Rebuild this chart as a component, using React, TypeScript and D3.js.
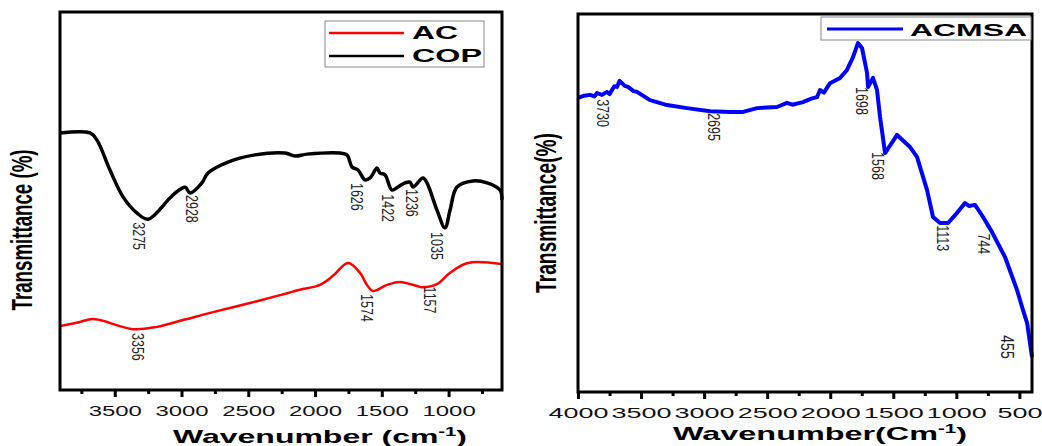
import * as d3 from 'd3';
import React, { useEffect, useRef } from 'react';

// COP (black) — wavenumber / transmittance
const copWavenumber = [3910, 3685, 3633, 3536, 3438, 3333, 3251, 3146, 3101, 2996, 2970, 2936, 2847, 2802, 2652, 2450, 2225, 2150, 2060, 1813, 1761, 1723, 1678, 1626, 1588, 1536, 1514, 1476, 1424, 1379, 1326, 1289, 1266, 1192, 1162, 1087, 1027, 989, 937, 817, 712, 615, 600];
const copTransmittance = [68.0, 68.0, 66.1, 58.2, 51.1, 46.8, 45.2, 48.4, 50.3, 53.4, 53.6, 52.1, 54.8, 57.4, 60.3, 62.2, 62.7, 61.9, 62.4, 62.7, 62.2, 59.0, 58.2, 55.6, 56.1, 58.7, 57.4, 56.9, 52.9, 53.7, 54.8, 55.0, 53.7, 56.1, 54.8, 47.6, 42.9, 47.6, 53.7, 55.3, 54.8, 52.9, 50.3];

// AC (red)
const acWavenumber = [3910, 3760, 3670, 3610, 3363, 3184, 2989, 2764, 2510, 2262, 2113, 1963, 1866, 1753, 1663, 1611, 1566, 1461, 1364, 1236, 1199, 1087, 989, 855, 600];
const acTransmittance = [16.9, 18.0, 18.8, 18.5, 16.1, 16.7, 18.5, 20.6, 22.8, 25.1, 26.5, 27.8, 30.2, 33.6, 31.0, 27.8, 26.2, 27.8, 28.6, 27.5, 27.2, 28.0, 31.0, 33.6, 33.3];

// ACMSA (blue) — right panel
const acmsaWavenumber = [4000, 3950, 3905, 3870, 3849, 3810, 3770, 3750, 3730, 3710, 3691, 3670, 3651, 3630, 3603, 3560, 3532, 3429, 3294, 3136, 2953, 2795, 2691, 2580, 2422, 2343, 2300, 2216, 2150, 2105, 2081, 2050, 2002, 1960, 1922, 1867, 1819, 1780, 1748, 1708, 1700, 1661, 1629, 1605, 1565, 1470, 1367, 1312, 1232, 1185, 1129, 1066, 994, 931, 900, 852, 788, 717, 614, 519, 470, 439, 400];
const acmsaTransmittance = [77.8, 78.4, 78.6, 78.2, 79.1, 78.6, 79.4, 78.8, 79.9, 80.9, 80.7, 82.3, 81.7, 81.0, 80.7, 79.6, 79.4, 77.2, 75.9, 75.1, 74.3, 74.1, 74.1, 75.1, 75.4, 76.5, 76.0, 76.7, 77.6, 78.0, 79.9, 79.2, 81.7, 82.4, 83.1, 85.2, 88.6, 92.3, 91.0, 84.4, 80.7, 83.1, 79.9, 72.8, 63.2, 68.0, 64.8, 62.2, 53.4, 46.3, 44.7, 44.7, 47.4, 50.0, 49.2, 49.5, 46.3, 42.3, 35.7, 27.0, 21.5, 18.3, 9.3];

// tick values
const leftMajorTicks = [3500, 3000, 2500, 2000, 1500, 1000];
const leftMinorTicks = [3750, 3250, 2750, 2250, 1750, 1250, 750];
const rightMajorTicks = [4000, 3500, 3000, 2500, 2000, 1500, 1000, 500];
const rightMinorTicks = [3750, 3250, 2750, 2250, 1750, 1250, 750];

// peak annotations: [label, wavenumber, transmittance]
const copPeaks: [string, number, number][] = [
  ['3275', 3318, 40.7], ['2928', 2921, 47.9], ['1626', 1686, 51.1],
  ['1422', 1454, 48.1], ['1236', 1274, 49.5], ['1035', 1087, 38.1],
];
const acPeaks: [string, number, number][] = [
  ['3356', 3326, 11.4], ['1574', 1611, 21.7], ['1157', 1139, 23.8],
];
const acmsaPeaks: [string, number, number][] = [
  ['3730', 3802, 73.8], ['2695', 2922, 70.1], ['1698', 1748, 77.0],
  ['1568', 1621, 59.8], ['1113', 1106, 40.7], ['744', 780, 39.2], ['455', 598, 11.9],
];

const FONT = '"Liberation Sans", Arial, sans-serif';

type Series = { wn: number[]; t: number[]; color: string; width: number; curve: d3.CurveFactory };

function Panel({ left, top, right, bottom, domain, major, minor, series, peaks, digitWidth, children }: any) {
  const majorRef = useRef<SVGGElement>(null);
  const minorRef = useRef<SVGGElement>(null);

  const x = d3.scaleLinear().domain(domain).range([left, right]);
  const y = d3.scaleLinear().domain([0, 100]).range([bottom, top]);

  useEffect(() => {
    const gMaj = d3.select(majorRef.current);
    gMaj.call(d3.axisBottom(x).tickValues(major).tickSize(7).tickSizeOuter(0).tickPadding(8).tickFormat(d3.format('d')));
    gMaj.select('.domain').remove();
    gMaj.selectAll('line').attr('stroke', '#000').attr('stroke-width', 3);
    gMaj.selectAll<SVGTextElement, number>('text')
      .attr('font-family', FONT)
      .attr('font-size', 15)
      .attr('fill', '#111')
      .attr('textLength', d => String(d).length * digitWidth)
      .attr('lengthAdjust', 'spacingAndGlyphs');

    const gMin = d3.select(minorRef.current);
    gMin.call(d3.axisBottom(x).tickValues(minor).tickSize(4).tickSizeOuter(0).tickFormat(() => ''));
    gMin.select('.domain').remove();
    gMin.selectAll('line').attr('stroke', '#000').attr('stroke-width', 3);
  }, []);

  return (
    <g>
      <g ref={minorRef} transform={`translate(0,${bottom})`} />
      <g ref={majorRef} transform={`translate(0,${bottom})`} />
      {series.map((s: Series, i: number) => {
        const pts = s.wn.map((w, j) => [w, s.t[j]] as [number, number]);
        const path = d3.line<[number, number]>().x(d => x(d[0])).y(d => y(d[1])).curve(s.curve)(pts);
        return <path key={i} d={path || ''} fill="none" stroke={s.color} strokeWidth={s.width} strokeLinejoin="round" />;
      })}
      {peaks.map(([label, w, t]: [string, number, number]) => (
        <text
          key={label}
          transform={`translate(${x(w)},${y(t)}) scale(1.35,1) rotate(90)`}
          textAnchor="middle"
          dominantBaseline="central"
          fontFamily={FONT}
          fontSize={label === '455' ? 14 : 12.5}
          fill="#222"
        >
          {label}
        </text>
      ))}
      <rect x={left} y={top} width={right - left} height={bottom - top} fill="none" stroke="#000" strokeWidth={3} />
      {children}
    </g>
  );
}

export default function App() {
  return (
    <svg width={1042} height={446} style={{ position: 'absolute', left: 0, top: 0, background: '#fff' }}>
      <Panel
        left={60} top={12} right={502} bottom={390}
        domain={[3910, 600]}
        major={leftMajorTicks} minor={leftMinorTicks} digitWidth={13.3}
        series={[
          { wn: copWavenumber, t: copTransmittance, color: '#000', width: 3.5, curve: d3.curveCatmullRom },
          { wn: acWavenumber, t: acTransmittance, color: '#f00', width: 2.5, curve: d3.curveCatmullRom },
        ]}
        peaks={[...copPeaks, ...acPeaks]}
      >
        <rect x={325} y={21} width={159} height={46} fill="#fff" stroke="#888" strokeWidth={1} />
        <line x1={329} x2={404} y1={33} y2={33} stroke="#f00" strokeWidth={2.5} />
        <line x1={329} x2={404} y1={56} y2={56} stroke="#000" strokeWidth={2.5} />
        <text x={412} y={39} fontFamily={FONT} fontWeight="bold" fontSize={18} textLength={46} lengthAdjust="spacingAndGlyphs">AC</text>
        <text x={412} y={62} fontFamily={FONT} fontWeight="bold" fontSize={18} textLength={70} lengthAdjust="spacingAndGlyphs">COP</text>
        <text x={320} y={443} textAnchor="middle" fontFamily={FONT} fontWeight="bold" fontSize={19} textLength={294} lengthAdjust="spacingAndGlyphs">
          Wavenumber (cm<tspan dy={-7} fontSize={12}>-1</tspan><tspan dy={7}>)</tspan>
        </text>
        <text transform="translate(32,230) scale(1.55,1) rotate(-90)" textAnchor="middle" fontFamily={FONT} fontWeight="bold" fontSize={18.5} textLength={161} lengthAdjust="spacingAndGlyphs">
          Transmittance (%)
        </text>
      </Panel>
      <Panel
        left={578} top={14} right={1032} bottom={392}
        domain={[4000, 400]}
        major={rightMajorTicks} minor={rightMinorTicks} digitWidth={15}
        series={[{ wn: acmsaWavenumber, t: acmsaTransmittance, color: '#00f', width: 4, curve: d3.curveLinear }]}
        peaks={acmsaPeaks}
      >
        <rect x={821} y={17} width={210} height={23} fill="#fff" stroke="#888" strokeWidth={1} />
        <line x1={827} x2={903} y1={29} y2={29} stroke="#00f" strokeWidth={3} />
        <text x={910} y={36} fontFamily={FONT} fontWeight="bold" fontSize={17} textLength={117} lengthAdjust="spacingAndGlyphs">ACMSA</text>
        <text x={820} y={440} textAnchor="middle" fontFamily={FONT} fontWeight="bold" fontSize={19} textLength={294} lengthAdjust="spacingAndGlyphs">
          Wavenumber(Cm<tspan dy={-7} fontSize={12}>-1</tspan><tspan dy={7}>)</tspan>
        </text>
        <text transform="translate(556,213) scale(1.55,1) rotate(-90)" textAnchor="middle" fontFamily={FONT} fontWeight="bold" fontSize={18.5} textLength={160} lengthAdjust="spacingAndGlyphs">
          Transmittance(%)
        </text>
      </Panel>
    </svg>
  );
}
